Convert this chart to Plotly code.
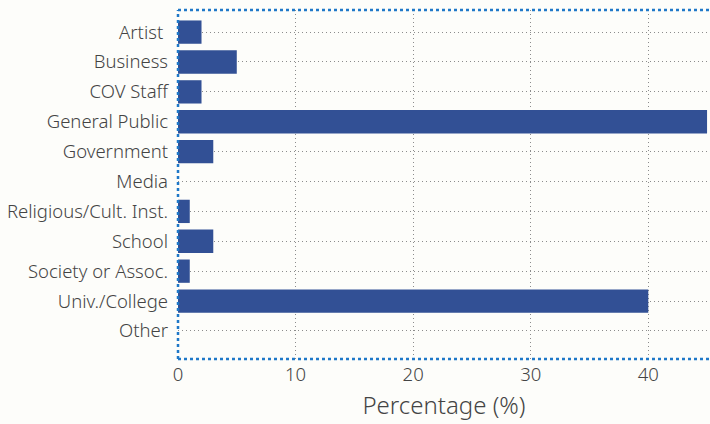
import plotly.graph_objects as go

categories = [
    "Artist\u00a0", "Business", "COV Staff", "General Public", "Government", "Media",
    "Religious/Cult. Inst.", "School", "Society or Assoc.", "Univ./College", "Other",
]
percentages = [2, 5, 2, 45, 3, 0, 1, 3, 1, 40, 0]
x_ticks = [0, 10, 20, 30, 40]

text_color = "#444444"
bar_color = "#325095"
frame_color = "#1f78c8"
grid_color = "#8c8c8c"
font_family = "Noto Sans"

fig = go.Figure(
    go.Bar(
        x=percentages,
        y=categories,
        orientation="h",
        width=0.78,
        marker=dict(color=bar_color, line=dict(width=0)),
    )
)

# dotted frame around the plotting area
frame = dict(type="line", xref="paper", yref="paper", layer="above",
             line=dict(color=frame_color, width=2.5, dash="dot"))
fig.update_layout(
    shapes=[
        dict(frame, x0=0, x1=0, y0=0, y1=1),
        dict(frame, x0=0, x1=1, y0=1, y1=1),
        dict(frame, x0=0, x1=1, y0=0, y1=0),
    ]
)

tick_font = dict(family=font_family, size=18.5, color=text_color, weight=300)

fig.update_layout(
    width=710,
    height=424,
    margin=dict(l=178, r=0, t=10, b=65),
    paper_bgcolor="#fdfdfa",
    plot_bgcolor="#fdfdfa",
    font=dict(family=font_family, color=text_color, size=18.5, weight=300),
    showlegend=False,
)

fig.update_xaxes(
    range=[0, 45.25],
    tickvals=x_ticks,
    ticktext=[str(v) for v in x_ticks],
    showgrid=True,
    gridcolor=grid_color,
    griddash="1px,3px",
    gridwidth=1,
    zeroline=False,
    showline=False,
    ticks="",
    ticklabelstandoff=2,
    tickfont=tick_font,
    title=dict(text="Percentage (%)",
               font=dict(family=font_family, size=24, color=text_color, weight=300),
               standoff=12),
)

fig.update_yaxes(
    type="category",
    categoryorder="array",
    categoryarray=categories,
    range=[10.94, -0.74],
    showgrid=True,
    gridcolor=grid_color,
    griddash="1px,3px",
    gridwidth=1,
    zeroline=False,
    showline=False,
    ticks="",
    ticklabelstandoff=9,
    tickfont=tick_font,
)

fig.write_html("out.html")
